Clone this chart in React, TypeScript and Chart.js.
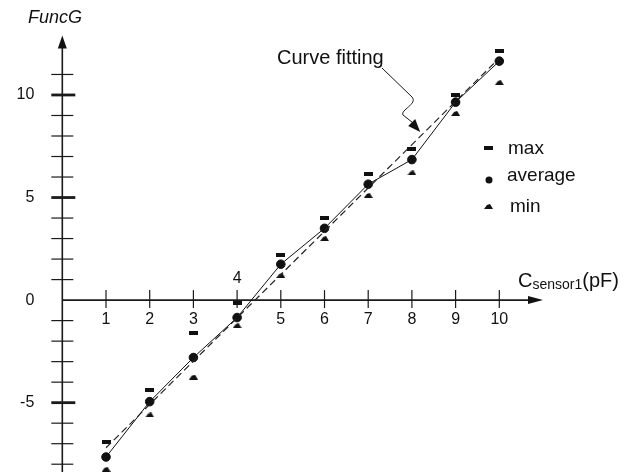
import React, { useEffect, useRef } from "react";
import { Chart, registerables } from "chart.js";

Chart.register(...registerables);

const xValues = [1, 2, 3, 4, 5, 6, 7, 8, 9, 10];
const maxValues = [-6.9, -4.4, -1.6, -0.15, 2.2, 4.0, 6.15, 7.35, 10.0, 12.15];
const avgValues = [-7.65, -4.95, -2.8, -0.85, 1.75, 3.5, 5.65, 6.85, 9.65, 11.65];
const minValues = [-8.25, -5.6, -3.75, -1.25, 1.2, 3.0, 5.1, 6.2, 9.1, 10.6];
const fitX = [1, 10];
const fitY = [-7.2, 11.8];
const xTickLabels = ["1", "2", "3", "4", "5", "6", "7", "8", "9", "10"];
const xLabelsAbove = ["4"];
const yLabelValues = [-5, 0, 5, 10];
const yTickLabels = ["-5", "0", "5", "10"];
const yMinorTicks = [-8, -7, -6, -5, -4, -3, -2, -1, 1, 2, 3, 4, 5, 6, 7, 8, 9, 10, 11];
const legendLabels = ["max", "average", "min"];

const FONT = "'Liberation Sans', Arial, sans-serif";

function makeMaxMarker() {
  const c = document.createElement("canvas");
  c.width = 9; c.height = 4;
  const g = c.getContext("2d")!;
  g.fillStyle = "#111";
  g.fillRect(0, 0, 9, 4);
  return c;
}
function makeMinMarker() {
  const c = document.createElement("canvas");
  c.width = 9; c.height = 5;
  const g = c.getContext("2d")!;
  g.fillStyle = "#111";
  g.beginPath();
  g.moveTo(0, 5); g.lineTo(3, 1); g.lineTo(6, 0); g.lineTo(9, 5); g.closePath();
  g.fill();
  return c;
}

export default function App() {
  const ref = useRef<HTMLCanvasElement>(null);
  useEffect(() => {
    document.body.style.margin = "0";
    const maxMarker = makeMaxMarker();
    const minMarker = makeMinMarker();

    const axesPlugin = {
      id: "crossAxes",
      beforeDatasetsDraw(chart: any) {
        const { ctx, scales } = chart;
        const x = scales.x, y = scales.y;
        const x0 = x.getPixelForValue(0);
        const y0 = y.getPixelForValue(0);
        ctx.save();
        ctx.strokeStyle = "#1a1a1a";
        ctx.fillStyle = "#111";
        ctx.lineWidth = 1.6;
        // y axis
        const yTop = y.getPixelForValue(12.9);
        ctx.beginPath(); ctx.moveTo(x0, chart.height); ctx.lineTo(x0, yTop + 8); ctx.stroke();
        ctx.beginPath(); ctx.moveTo(x0, yTop); ctx.lineTo(x0 - 4.5, yTop + 13); ctx.lineTo(x0 + 4.5, yTop + 13); ctx.closePath(); ctx.fill();
        // x axis
        const xEnd = x.getPixelForValue(11.0);
        ctx.beginPath(); ctx.moveTo(x0, y0); ctx.lineTo(xEnd - 8, y0); ctx.stroke();
        ctx.beginPath(); ctx.moveTo(xEnd, y0); ctx.lineTo(xEnd - 15, y0 - 4); ctx.lineTo(xEnd - 15, y0 + 4); ctx.closePath(); ctx.fill();
        // y ticks
        yMinorTicks.forEach((v) => {
          const py = y.getPixelForValue(v);
          const major = v % 5 === 0;
          ctx.lineWidth = major ? 2.8 : 1.2;
          ctx.beginPath(); ctx.moveTo(x0 - 11, py); ctx.lineTo(x0 + (major ? 13 : 11), py); ctx.stroke();
        });
        // x ticks
        ctx.lineWidth = 1.2;
        xValues.forEach((v) => {
          const px = x.getPixelForValue(v);
          ctx.beginPath(); ctx.moveTo(px, y0 - 10); ctx.lineTo(px, y0 + 8); ctx.stroke();
        });
        // tick labels
        ctx.font = `16px ${FONT}`;
        ctx.textAlign = "center";
        ctx.textBaseline = "middle";
        xValues.forEach((v, i) => {
          const px = x.getPixelForValue(v);
          const lbl = xTickLabels[i];
          const above = xLabelsAbove.includes(lbl);
          ctx.fillText(lbl, px, above ? y0 - 22 : y0 + 19);
        });
        ctx.textAlign = "right";
        yLabelValues.forEach((v, i) => {
          ctx.fillText(yTickLabels[i], x0 - 28, y.getPixelForValue(v));
        });
        // axis titles
        ctx.textAlign = "left";
        ctx.font = `italic 18px ${FONT}`;
        ctx.fillText("FuncG", 28, 18);
        ctx.textBaseline = "alphabetic";
        const tx = 518;
        const ty = y0 - 13;
        ctx.font = `20px ${FONT}`;
        ctx.fillText("C", tx, ty);
        let w = ctx.measureText("C").width;
        ctx.font = `14px ${FONT}`;
        ctx.fillText("sensor1", tx + w, ty + 2);
        w += ctx.measureText("sensor1").width;
        ctx.font = `20px ${FONT}`;
        ctx.fillText("(pF)", tx + w, ty);
        // annotation
        ctx.font = `20px ${FONT}`;
        ctx.fillText("Curve fitting", 277, 64);
        const ax = x.getPixelForValue(8.19), ay = y.getPixelForValue(8.2);
        ctx.lineWidth = 1;
        ctx.beginPath();
        ctx.moveTo(382, 68);
        ctx.lineTo(412, 97);
        ctx.bezierCurveTo(418, 104, 400, 110, 403, 115);
        ctx.lineTo(ax - 6, ay - 8);
        ctx.stroke();
        ctx.beginPath();
        ctx.moveTo(ax, ay);
        ctx.lineTo(ax - 12, ay - 6);
        ctx.lineTo(ax - 5, ay - 13);
        ctx.closePath();
        ctx.fill();
        ctx.restore();
      },
      afterDraw(chart: any) {
        const { ctx } = chart;
        ctx.save();
        ctx.fillStyle = "#111";
        ctx.font = `19px ${FONT}`;
        ctx.textBaseline = "alphabetic";
        ctx.textAlign = "left";
        // max
        ctx.drawImage(maxMarker, 484, 146);
        ctx.fillText(legendLabels[0], 508, 154);
        // average
        ctx.beginPath(); ctx.arc(489, 180, 3.5, 0, Math.PI * 2); ctx.fill();
        ctx.fillText(legendLabels[1], 507, 181);
        // min
        ctx.drawImage(minMarker, 484, 204);
        ctx.fillText(legendLabels[2], 510, 212);
        ctx.restore();
      },
    };

    const chart = new Chart(ref.current!, {
      type: "scatter",
      data: {
        datasets: [
          {
            label: "fit",
            data: fitX.map((v, i) => ({ x: v, y: fitY[i] })),
            showLine: true,
            borderColor: "#222",
            borderWidth: 1.2,
            borderDash: [7, 4],
            pointRadius: 0,
          },
          {
            label: legendLabels[1],
            data: xValues.map((v, i) => ({ x: v, y: avgValues[i] })),
            showLine: true,
            borderColor: "#111",
            borderWidth: 1,
            backgroundColor: "#111",
            pointRadius: 4.3,
            pointStyle: "circle",
          },
          {
            label: legendLabels[0],
            data: xValues.map((v, i) => ({ x: v, y: maxValues[i] })),
            pointStyle: maxMarker as any,
            pointRadius: 4,
          },
          {
            label: legendLabels[2],
            data: xValues.map((v, i) => ({ x: v, y: minValues[i] })),
            pointStyle: minMarker as any,
            pointRadius: 4,
          },
        ],
      },
      options: {
        animation: false,
        responsive: false,
        layout: { padding: 0, autoPadding: false },
        clip: false as any,
        plugins: { legend: { display: false }, tooltip: { enabled: false } },
        scales: {
          x: { type: "linear", min: -1.426, max: 13.174, display: false },
          y: { type: "linear", min: -8.38, max: 14.63, display: false },
        },
      },
      plugins: [axesPlugin],
    });
    return () => chart.destroy();
  }, []);
  return (
    <div style={{ width: 638, height: 472, background: "#fff" }}>
      <canvas ref={ref} width={638} height={472} style={{ display: "block" }} />
    </div>
  );
}
